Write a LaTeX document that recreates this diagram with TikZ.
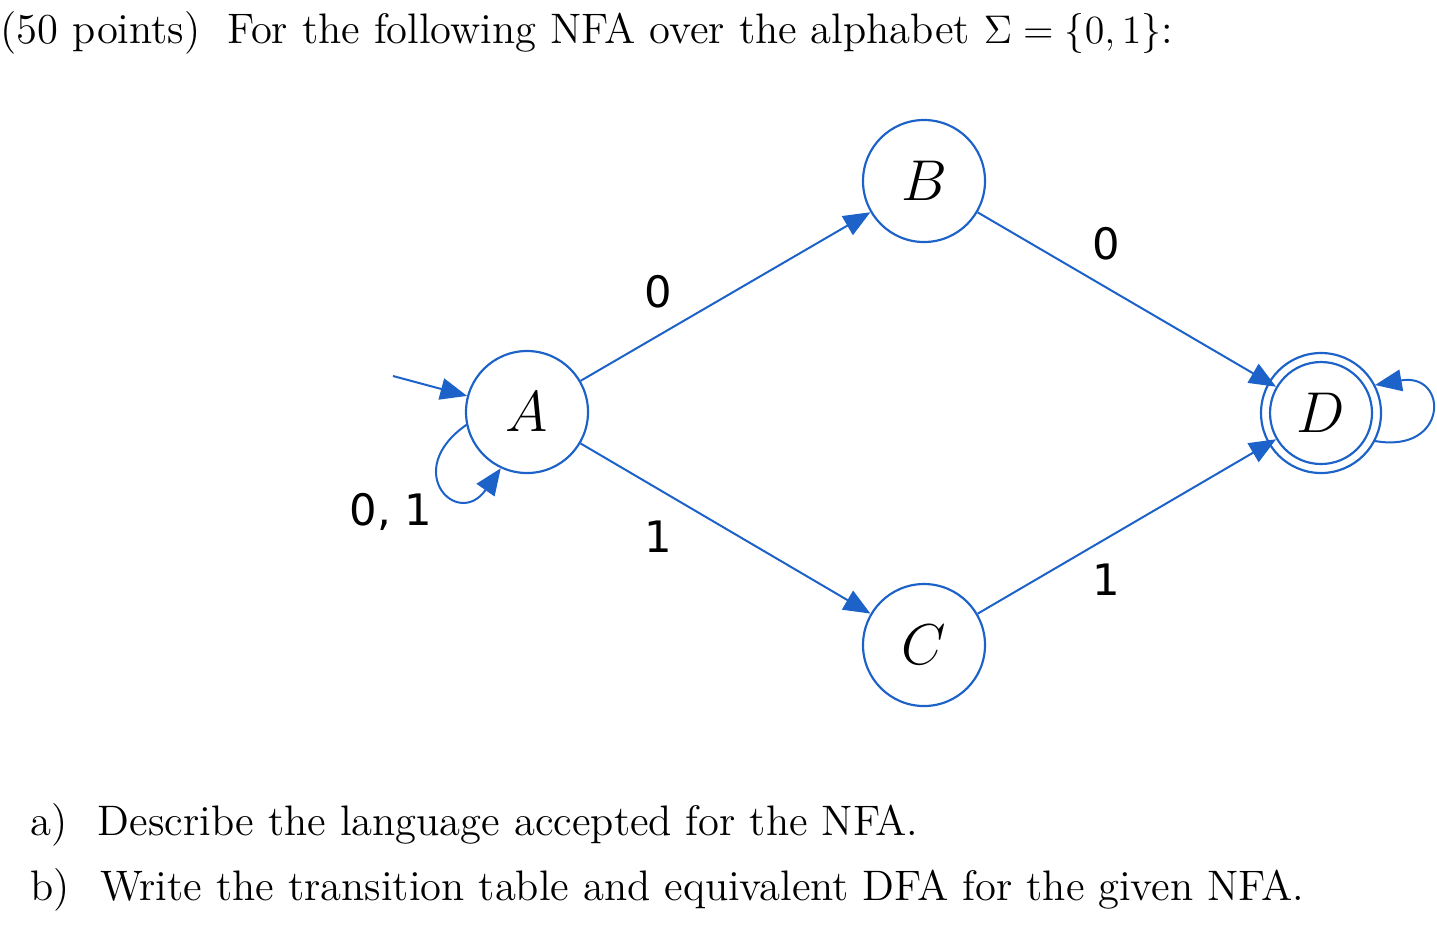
\documentclass[tikz,border=0pt]{standalone}
\usepackage{fontspec}
\newfontfamily\lblfont{DejaVu Sans}
\usetikzlibrary{arrows.meta}
\definecolor{nfa}{RGB}{28,98,200}
\begin{document}
\begin{tikzpicture}[x=0.3pt,y=0.3pt,
  state/.style={circle,draw=nfa,line width=0.65pt,minimum size=36.6pt,inner sep=0pt,font=\fontsize{17}{20}\selectfont},
  edge/.style={draw=nfa,line width=0.6pt,-{Triangle[length=8pt,width=6.5pt]},fill=none},
  lbl/.style={font=\lblfont\fontsize{13}{15}\selectfont,inner sep=0pt},
  txt/.style={font=\fontsize{12.8}{15}\selectfont,inner sep=0pt}]
\useasboundingbox (0,0) rectangle (1437,-933);
\node[txt,anchor=west] (title) at (0,-33) {(50 points)\hspace{0.3em} For the following NFA over the alphabet $\Sigma=\{0,1\}$:};
\node[state] (A) at (527,-412) {$A$};
\node[state] (B) at (924,-181) {$B$};
\node[state] (C) at (924,-645) {$C$};
\node[state,minimum size=30.6pt] (D) at (1321,-413) {$D$};
\draw[draw=nfa,line width=0.65pt] (D) circle[radius=60];
\coordinate (init) at (393,-376);
\draw[edge] (init) -- (A);
\draw[edge] (A) -- (B);
\draw[edge] (A) -- (C);
\draw[edge] (B) -- (D);
\draw[edge] (C) -- (D);
\draw[edge] (A.192) .. controls +(215:80) and +(235:75) .. (A.245);
\draw[edge] (1375,-441) .. controls +(-10:75) and +(10:75) .. (1375,-385);
\node[lbl] (l01) at (658,-292) {0};
\node[lbl] (l1a) at (658,-537) {1};
\node[lbl] (l0d) at (1106,-244) {0};
\node[lbl] (l1d) at (1106,-580) {1};
\node[lbl] (l01a) at (391,-512) {0, 1};
\node[txt,anchor=base west] (a) at (30,-835) {a)\hspace{0.38em} Describe the language accepted for the NFA.};
\node[txt,anchor=base west] (b) at (30,-900) {b)\hspace{0.38em} Write the transition table and equivalent DFA for the given NFA.};
\end{tikzpicture}
\end{document}
